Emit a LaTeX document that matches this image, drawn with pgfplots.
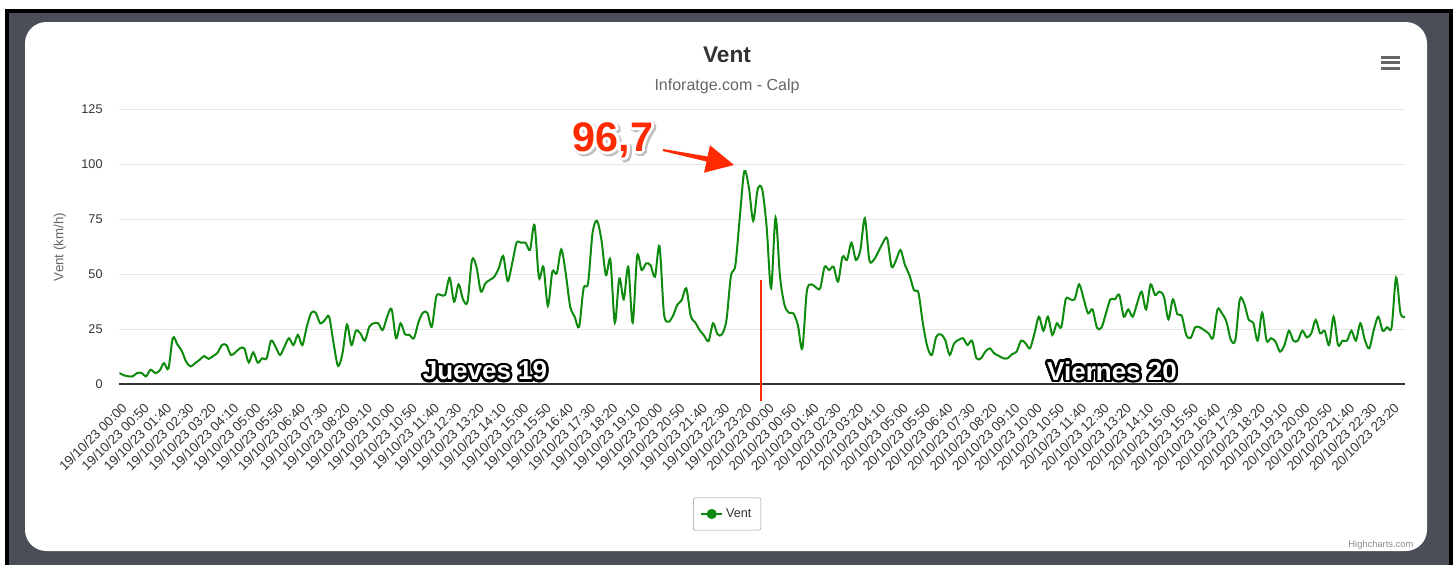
\documentclass[border=0pt]{standalone}
\usepackage{pgfplots}
\pgfplotsset{compat=1.18}
\usepackage{fontspec}
\setmainfont{Liberation Sans}
\definecolor{frame}{HTML}{4A4E57}
\definecolor{vgreen}{HTML}{0E8A0E}
\definecolor{txt}{HTML}{333333}
\definecolor{sub}{HTML}{666666}
\definecolor{gridc}{HTML}{E6E6E6}
\definecolor{annred}{HTML}{FF2A00}
\begin{document}
\begin{tikzpicture}
\begin{scope}[x=0.75pt,y=-0.75pt]
\useasboundingbox (0,0) rectangle (1453,565);
\fill[white] (0,0) rectangle (1453,565);
\fill[black] (5,9) rectangle (1453,565);
\fill[frame] (9,13) rectangle (1449,565);
\fill[white,rounded corners=16pt] (25,22) rectangle (1427,551);
\end{scope}
\begin{axis}[
  at={(89.475pt,-288pt)}, anchor=south west,
  scale only axis, width=964.275pt, height=206.25pt,
  xmin=0, xmax=288, ymin=0, ymax=125,
  axis x line*=bottom, axis y line*=left,
  y axis line style={draw=none},
  x axis line style={-, draw=black!80, line width=0.9pt},
  xtick style={draw=none}, ytick style={draw=none},
  ymajorgrids, grid style={gridc, line width=0.75pt},
  ytick={0,25,...,125},
  /pgf/number format/assume math mode=true,
  yticklabel style={font=\fontsize{9.5}{11}\selectfont, text=txt, xshift=-9pt},
  xtick={0,5,...,285},
  xticklabels={19/10/23 00:00,19/10/23 00:50,19/10/23 01:40,19/10/23 02:30,19/10/23 03:20,19/10/23 04:10,19/10/23 05:00,19/10/23 05:50,19/10/23 06:40,19/10/23 07:30,19/10/23 08:20,19/10/23 09:10,19/10/23 10:00,19/10/23 10:50,19/10/23 11:40,19/10/23 12:30,19/10/23 13:20,19/10/23 14:10,19/10/23 15:00,19/10/23 15:50,19/10/23 16:40,19/10/23 17:30,19/10/23 18:20,19/10/23 19:10,19/10/23 20:00,19/10/23 20:50,19/10/23 21:40,19/10/23 22:30,19/10/23 23:20,20/10/23 00:00,20/10/23 00:50,20/10/23 01:40,20/10/23 02:30,20/10/23 03:20,20/10/23 04:10,20/10/23 05:00,20/10/23 05:50,20/10/23 06:40,20/10/23 07:30,20/10/23 08:20,20/10/23 09:10,20/10/23 10:00,20/10/23 10:50,20/10/23 11:40,20/10/23 12:30,20/10/23 13:20,20/10/23 14:10,20/10/23 15:00,20/10/23 15:50,20/10/23 16:40,20/10/23 17:30,20/10/23 18:20,20/10/23 19:10,20/10/23 20:00,20/10/23 20:50,20/10/23 21:40,20/10/23 22:30,20/10/23 23:20},
  xticklabel style={rotate=45, anchor=east, font=\fontsize{10}{10}\selectfont, text=txt, yshift=-14pt, xshift=-8.5pt, inner sep=0pt},
  legend style={at={(0.4727,-0.4727)}, anchor=center, draw=black!40, fill=white, font=\fontsize{9.5}{11}\selectfont, text=txt, inner xsep=5pt, inner ysep=6pt, rounded corners=1pt},
  legend image code/.code={\draw[vgreen,line width=1.6pt] (0pt,0pt) -- (16pt,0pt); \fill[vgreen] (8pt,0pt) circle (3pt);},
]
\addplot[vgreen, line width=1.5pt, smooth, tension=0.5] coordinates {
(0,5) (1,4) (2,3.5) (3,3.5) (4,5) (5,5) (6,3.5) (7,6.5) (8,5) (9,6)
(10,9.5) (11,7) (12,21) (13,18) (14,15) (15,10) (16,8) (17,9.5) (18,11) (19,12.7)
(20,11.4) (21,12.7) (22,14.2) (23,17.7) (24,17.7) (25,13.2) (26,14.4) (27,16.2) (28,16.2) (29,9.8)
(30,14.4) (31,9.7) (32,11.7) (33,11.7) (34,19.7) (35,17) (36,13.2) (37,17) (38,20.8) (39,17.7)
(40,22.3) (41,17.7) (42,26) (43,32.4) (44,32.4) (45,27.6) (46,29) (47,30.6) (48,18.5) (49,8.2)
(50,14) (51,27) (52,17.7) (53,24.2) (54,23) (55,19.7) (56,26) (57,27.6) (58,27.6) (59,24.5)
(60,30.6) (61,34) (62,20.8) (63,27.6) (64,22.6) (65,22.3) (66,20.8) (67,28) (68,32.4) (69,32.4)
(70,26) (71,39.7) (72,40.5) (73,40.5) (74,48.3) (75,37.4) (76,45.3) (77,38.5) (78,37.4) (79,56.4)
(80,53.3) (81,42) (82,45.8) (83,47.3) (84,48.8) (85,52.6) (86,58.2) (87,46.8) (88,54.8) (89,64.2)
(90,64.2) (91,64.2) (92,61) (93,72.3) (94,48.3) (95,53.3) (96,35.5) (97,51) (98,50.3) (99,61.2)
(100,50.3) (101,35.2) (102,30.6) (103,26) (104,43.5) (105,45.8) (106,68.5) (107,74.2) (108,65.5) (109,49.5)
(110,56.4) (111,27.9) (112,48) (113,38.5) (114,53.3) (115,27.9) (116,58.2) (117,51.8) (118,54.8) (119,54)
(120,48.8) (121,62.7) (122,32.1) (123,28.3) (124,30.9) (125,36) (126,38.2) (127,43.5) (128,31) (129,28)
(130,24.5) (131,22) (132,19.5) (133,27.6) (134,22.6) (135,22.6) (136,29) (137,49) (138,54) (139,76)
(140,96.7) (141,89.7) (142,74.2) (143,88.5) (144,88.5) (145,71.5) (146,43.5) (147,75.6) (148,48.8) (149,36)
(150,32.4) (151,32.1) (152,26.8) (153,16.2) (154,42) (155,45.3) (156,44) (157,43.5) (158,53.3) (159,51.8)
(160,53.3) (161,46.5) (162,57.9) (163,56.4) (164,64.2) (165,56.4) (166,60.9) (167,75.3) (168,56.4) (169,56.4)
(170,60) (171,64) (172,66.2) (173,53.3) (174,56.4) (175,60.9) (176,54) (177,49.5) (178,42.7) (179,41.5)
(180,27.6) (181,17) (182,13.2) (183,21.5) (184,22.6) (185,20) (186,13.2) (187,18.5) (188,20) (189,20.8)
(190,17.7) (191,19.7) (192,11.7) (193,11.7) (194,14.7) (195,16.2) (196,13.9) (197,12.8) (198,11.7) (199,11.7)
(200,13.6) (201,14.7) (202,19.7) (203,18.5) (204,16.2) (205,23) (206,30.6) (207,24.2) (208,30.6) (209,22.3)
(210,27.6) (211,25.8) (212,38.5) (213,38.5) (214,38.5) (215,45.3) (216,38.9) (217,32.1) (218,33.9) (219,25.6)
(220,25.6) (221,32) (222,38.5) (223,38.5) (224,40.5) (225,30.6) (226,33.9) (227,30.6) (228,36.7) (229,42)
(230,33.9) (231,45.3) (232,40.5) (233,42) (234,39.7) (235,29.4) (236,38.5) (237,31.7) (238,30.9) (239,22.3)
(240,21) (241,25.8) (242,25.8) (243,24.5) (244,23) (245,21) (246,33.9) (247,32.1) (248,28.3) (249,20)
(250,20) (251,38.5) (252,36.4) (253,29.1) (254,27.9) (255,19.7) (256,32.4) (257,19.7) (258,20.8) (259,19.2)
(260,14.7) (261,17.7) (262,24.2) (263,19.7) (264,19.7) (265,24.2) (266,21.2) (267,23) (268,29.1) (269,23)
(270,24.2) (271,17.7) (272,30.6) (273,17.7) (274,19.7) (275,19.7) (276,24.2) (277,19.7) (278,27.6) (279,20)
(280,16.2) (281,24.5) (282,30.6) (283,24.2) (284,25.8) (285,25.8) (286,48.3) (287,32.1) (288,30.6)
};
\addlegendentry{Vent}
\end{axis}
\begin{scope}[x=0.75pt,y=-0.75pt]
\node[font=\fontsize{17}{20}\selectfont\bfseries, text=txt] at (727,55) {Vent};
\node[font=\fontsize{12}{14}\selectfont, text=sub] at (727,86) {Inforatge.com - Calp};
\node[rotate=90, font=\fontsize{10}{12}\selectfont, text=sub] at (60,247) {Vent (km/h)};
\fill[sub] (1381,55.5) rectangle (1400,58.5);
\fill[sub] (1381,61) rectangle (1400,64);
\fill[sub] (1381,66.5) rectangle (1400,69.5);
\node[anchor=east, font=\fontsize{7}{8}\selectfont, text=black!45] at (1418,545) {Highcharts.com};
\draw[annred, line width=0.8pt] (761,280) -- (761,401);
% outlined day labels
\foreach \a in {0,22.5,...,337.5}{
  \node[font=\fontsize{19.5}{22}\selectfont\bfseries, text=black, xshift={1.9pt*cos(\a)}, yshift={1.9pt*sin(\a)}] at (485,371) {Jueves 19};
  \node[font=\fontsize{19.5}{22}\selectfont\bfseries, text=black, xshift={1.9pt*cos(\a)}, yshift={1.9pt*sin(\a)}] at (1112,371) {Viernes 20};
}
\node[font=\fontsize{19.5}{22}\selectfont\bfseries, text=white] at (485,371) {Jueves 19};
\node[font=\fontsize{19.5}{22}\selectfont\bfseries, text=white] at (1112,371) {Viernes 20};
% 96,7 label
\foreach \a in {0,30,...,330}{
  \node[font=\fontsize{31}{34}\selectfont\bfseries, text=black!25, xshift={1.5pt+2.2pt*cos(\a)}, yshift={-1.5pt+2.2pt*sin(\a)}] at (613,140) {96,7};
}
\foreach \a in {0,30,...,330}{
  \node[font=\fontsize{31}{34}\selectfont\bfseries, text=white, xshift={2.2pt*cos(\a)}, yshift={2.2pt*sin(\a)}] at (613,140) {96,7};
}
\node[font=\fontsize{31}{34}\selectfont\bfseries, text=annred] at (613,140) {96,7};
\fill[annred] (663.2,149) -- (707.5,156.5) -- (710,145.3) -- (734,165) -- (704,172.7) -- (706.5,161.5) -- (662.8,151) -- cycle;
\end{scope}
\end{tikzpicture}
\end{document}
